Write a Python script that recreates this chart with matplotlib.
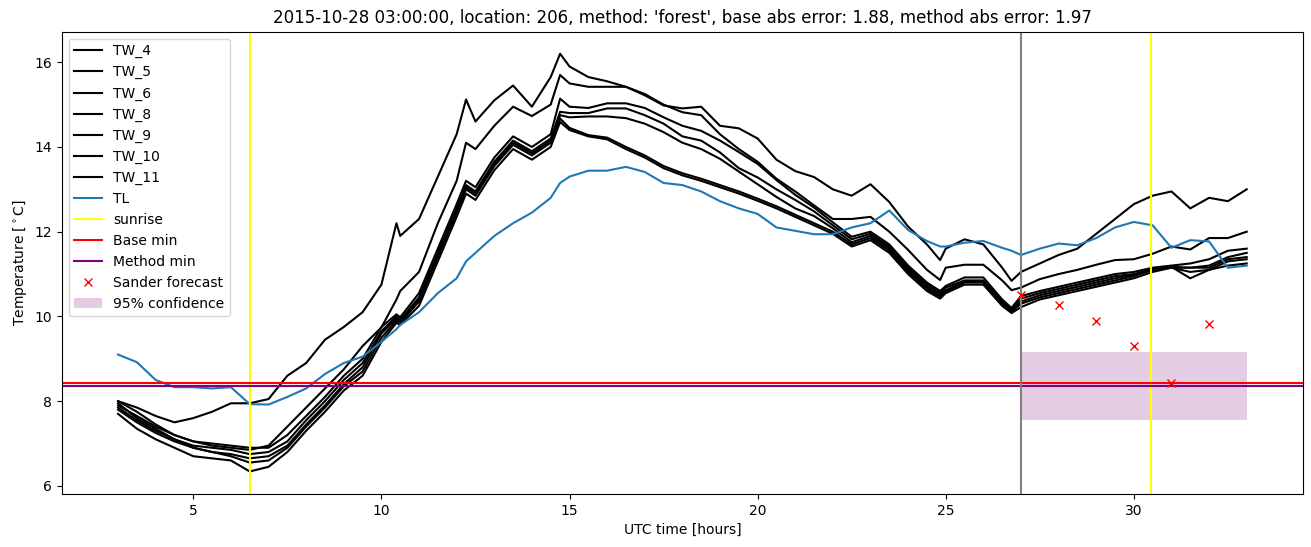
import numpy as np
import matplotlib
matplotlib.use("Agg")
import matplotlib.pyplot as plt

# UTC hours of the readings (half hours, plus a few extra at sharp turns)
hours = [3.0, 3.5, 4.0, 4.5, 5.0, 5.5, 6.0, 6.5, 7.0, 7.5,
         8.0, 8.5, 9.0, 9.5, 10.0, 10.4, 10.5, 11.0, 11.5, 12.0,
         12.25, 12.5, 13.0, 13.5, 14.0, 14.5, 14.75, 15.0, 15.5, 16.0,
         16.5, 17.0, 17.5, 18.0, 18.5, 19.0, 19.5, 20.0, 20.5, 21.0,
         21.5, 22.0, 22.5, 23.0, 23.5, 24.0, 24.5, 24.85, 25.0, 25.5,
         26.0, 26.5, 26.75, 27.0, 27.5, 28.0, 28.5, 29.0, 29.5, 30.0,
         30.5, 31.0, 31.5, 32.0, 32.5, 33.0]

tw_4 = [8.0, 7.85, 7.65, 7.5, 7.6, 7.75, 7.95, 7.95, 8.05, 8.6,
        8.9, 9.45, 9.75, 10.1, 10.75, 12.2, 11.9, 12.3, 13.3, 14.3,
        15.12, 14.6, 15.1, 15.45, 14.95, 15.65, 16.2, 15.9, 15.65, 15.55,
        15.42, 15.22, 14.98, 14.91, 14.95, 14.5, 14.44, 14.2, 13.7, 13.43,
        13.29, 13.0, 12.85, 13.12, 12.7, 12.12, 11.7, 11.33, 11.6, 11.82,
        11.7, 11.15, 10.84, 11.05, 11.25, 11.45, 11.6, 11.95, 12.3, 12.65,
        12.85, 12.95, 12.55, 12.8, 12.72, 13.0]
tw_5 = [8.0, 7.75, 7.45, 7.2, 7.05, 6.95, 6.9, 6.85, 6.95, 7.4,
        7.85, 8.3, 8.75, 9.3, 9.74, 10.4, 10.6, 11.05, 12.2, 13.2,
        14.1, 13.95, 14.5, 14.95, 14.73, 15.0, 15.7, 15.5, 15.42, 15.42,
        15.42, 15.25, 15.0, 14.82, 14.75, 14.3, 13.95, 13.65, 13.25, 12.95,
        12.62, 12.3, 12.3, 12.35, 12.0, 11.57, 11.1, 10.86, 11.15, 11.22,
        11.22, 10.85, 10.62, 10.68, 10.88, 11.0, 11.1, 11.22, 11.33, 11.35,
        11.48, 11.65, 11.58, 11.85, 11.85, 12.0]
tw_6 = [7.9, 7.65, 7.4, 7.2, 7.05, 7.0, 6.95, 6.9, 6.9, 7.2,
        7.65, 8.1, 8.6, 9.0, 9.75, 10.05, 9.98, 10.55, 11.6, 12.65,
        13.2, 13.05, 13.75, 14.25, 14.0, 14.3, 15.14, 14.95, 14.92, 15.03,
        15.03, 14.92, 14.7, 14.5, 14.38, 14.15, 13.88, 13.6, 13.22, 12.87,
        12.57, 12.22, 11.88, 12.0, 11.7, 11.2, 10.8, 10.6, 10.72, 10.92,
        10.92, 10.4, 10.2, 10.48, 10.6, 10.7, 10.8, 10.9, 11.0, 11.05,
        11.15, 11.2, 11.25, 11.35, 11.55, 11.6]
tw_8 = [7.85, 7.55, 7.3, 7.1, 6.95, 6.9, 6.85, 6.75, 6.8, 7.05,
        7.55, 8.0, 8.5, 8.9, 9.65, 10.0, 9.92, 10.45, 11.5, 12.55,
        13.1, 12.95, 13.65, 14.15, 13.9, 14.2, 14.83, 14.8, 14.8, 14.91,
        14.91, 14.75, 14.55, 14.25, 14.15, 13.87, 13.5, 13.28, 13.0, 12.75,
        12.48, 12.15, 11.82, 11.95, 11.65, 11.15, 10.75, 10.55, 10.68, 10.85,
        10.85, 10.35, 10.18, 10.42, 10.55, 10.65, 10.75, 10.85, 10.95, 11.0,
        11.12, 11.17, 11.15, 11.2, 11.4, 11.5]
tw_9 = [7.8, 7.5, 7.25, 7.05, 6.9, 6.8, 6.75, 6.65, 6.7, 6.95,
        7.45, 7.9, 8.4, 8.8, 9.6, 9.95, 9.88, 10.4, 11.45, 12.5,
        13.05, 12.9, 13.6, 14.1, 13.85, 14.15, 14.75, 14.7, 14.72, 14.72,
        14.68, 14.55, 14.35, 14.1, 13.95, 13.72, 13.42, 13.12, 12.82, 12.55,
        12.37, 12.08, 11.75, 11.9, 11.6, 11.1, 10.7, 10.5, 10.62, 10.82,
        10.82, 10.32, 10.15, 10.35, 10.5, 10.6, 10.7, 10.8, 10.9, 10.98,
        11.1, 11.15, 11.15, 11.15, 11.35, 11.4]
tw_10 = [7.95, 7.6, 7.35, 7.1, 6.9, 6.8, 6.7, 6.55, 6.6, 6.9,
         7.4, 7.85, 8.35, 8.7, 9.5, 9.9, 9.85, 10.35, 11.4, 12.45,
         13.0, 12.85, 13.55, 14.05, 13.8, 14.1, 14.67, 14.45, 14.28, 14.22,
         14.0, 13.8, 13.55, 13.38, 13.25, 13.1, 12.95, 12.78, 12.6, 12.4,
         12.2, 12.0, 11.7, 11.85, 11.55, 11.05, 10.65, 10.46, 10.58, 10.8,
         10.8, 10.28, 10.12, 10.3, 10.45, 10.55, 10.65, 10.75, 10.85, 10.95,
         11.1, 11.17, 10.9, 11.1, 11.3, 11.35]
tw_11 = [7.7, 7.35, 7.1, 6.9, 6.7, 6.65, 6.6, 6.34, 6.45, 6.8,
         7.3, 7.75, 8.25, 8.6, 9.4, 9.85, 9.8, 10.25, 11.3, 12.35,
         12.9, 12.75, 13.45, 13.95, 13.7, 14.0, 14.59, 14.4, 14.25, 14.18,
         13.95, 13.75, 13.5, 13.33, 13.2, 13.05, 12.9, 12.73, 12.55, 12.35,
         12.15, 11.95, 11.65, 11.8, 11.5, 11.0, 10.6, 10.42, 10.55, 10.75,
         10.75, 10.25, 10.08, 10.22, 10.4, 10.5, 10.6, 10.7, 10.8, 10.9,
         11.05, 11.15, 11.05, 11.1, 11.2, 11.25]
tl = [9.1, 8.92, 8.5, 8.33, 8.33, 8.3, 8.33, 7.93, 7.92, 8.1,
      8.3, 8.64, 8.9, 9.05, 9.4, 9.7, 9.8, 10.1, 10.55, 10.9,
      11.3, 11.5, 11.9, 12.2, 12.45, 12.8, 13.15, 13.3, 13.44, 13.44,
      13.53, 13.41, 13.15, 13.1, 12.95, 12.72, 12.55, 12.42, 12.1, 12.02,
      11.94, 11.94, 12.1, 12.2, 12.5, 12.04, 11.78, 11.65, 11.65, 11.74,
      11.78, 11.62, 11.55, 11.45, 11.6, 11.72, 11.68, 11.85, 12.1, 12.23,
      12.15, 11.62, 11.8, 11.77, 11.15, 11.2]

tw_series = {"TW_4": tw_4, "TW_5": tw_5, "TW_6": tw_6, "TW_8": tw_8,
             "TW_9": tw_9, "TW_10": tw_10, "TW_11": tw_11}

sunrise_hours = [6.5, 30.45]
forecast_start = 27.0
base_min = 8.43
method_min = 8.35

sander_hours = [27, 28, 29, 30, 31, 32]
sander_values = [10.5, 10.27, 9.9, 9.3, 8.42, 9.82]

conf_hours = [27.0, 33.0]
conf_low = 7.55
conf_high = 9.17


fig, ax = plt.subplots(figsize=(13.11, 5.47), dpi=100)
fig.subplots_adjust(left=0.047, right=0.994, top=0.942, bottom=0.097)

for name, vals in tw_series.items():
    ax.plot(hours, vals, color="black", label=name)
ax.plot(hours, tl, color="tab:blue", label="TL")

for i, h in enumerate(sunrise_hours):
    ax.axvline(h, color="yellow", label="sunrise" if i == 0 else None)
ax.axhline(base_min, color="red", label="Base min")
ax.axhline(method_min, color="purple", label="Method min")
ax.axvline(forecast_start, color="gray")
ax.plot(sander_hours, sander_values, "x", color="red", linestyle="none",
        label="Sander forecast")
ax.fill_between(conf_hours, conf_low, conf_high, color="purple", alpha=0.2,
                linewidth=0, zorder=0, label="95% confidence")

ax.set_xlim(1.5, 34.5)
ax.set_ylim(5.81, 16.72)
ax.set_xlabel("UTC time [hours]")
ax.set_ylabel(r"Temperature [$^\circ$C]")
ax.set_title("2015-10-28 03:00:00, location: 206, method: 'forest', "
             "base abs error: 1.88, method abs error: 1.97")
ax.legend(loc="upper left")

plt.savefig("out.png", dpi=100)
